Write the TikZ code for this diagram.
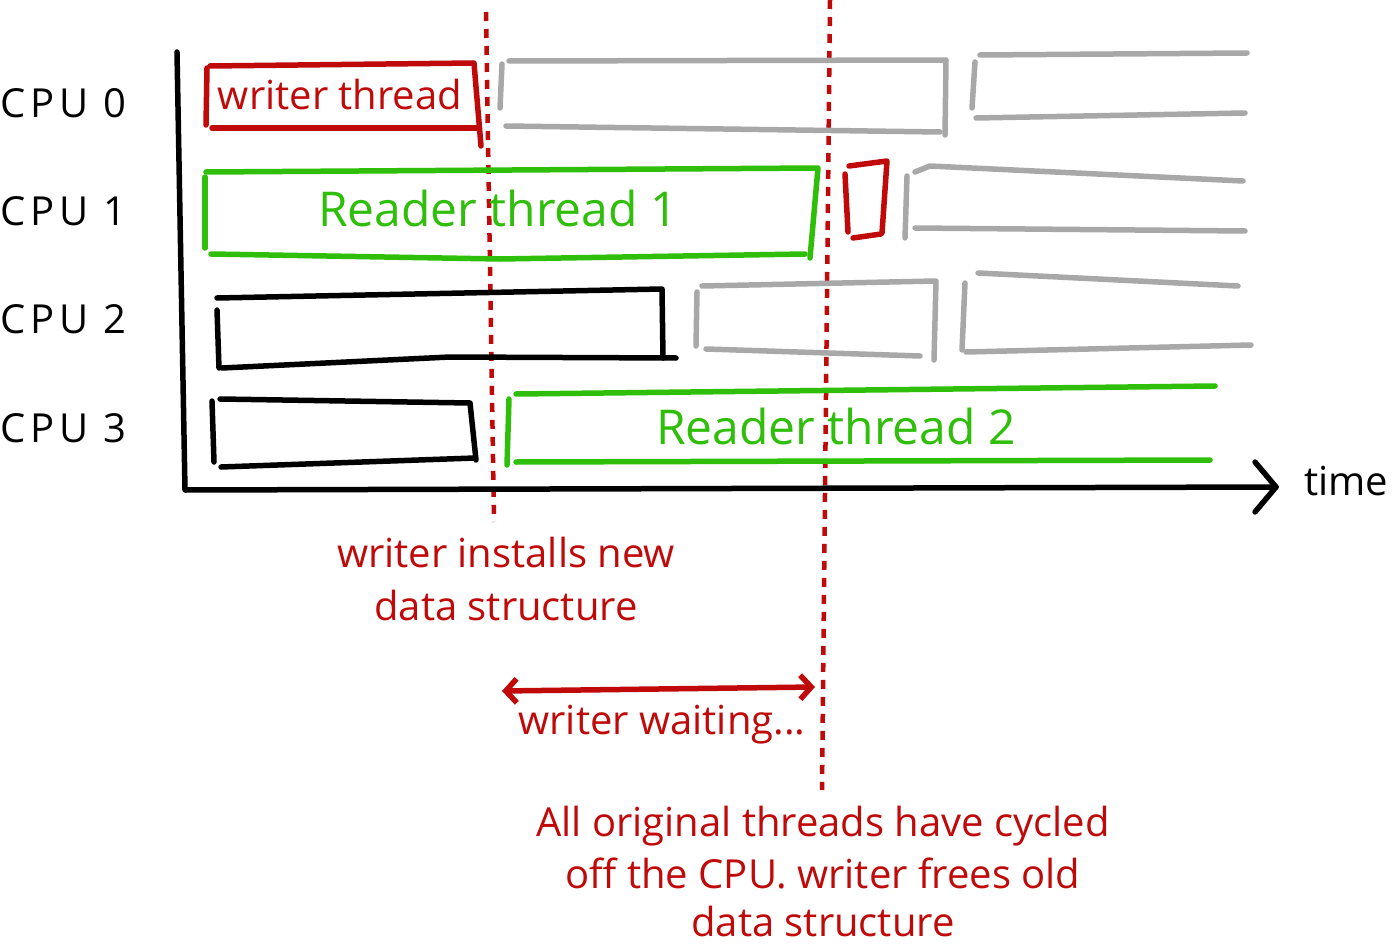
\documentclass[tikz,border=0pt]{standalone}
\usepackage{fontspec}
\setmainfont{Open Sans}
\newfontfamily\cpufont[LetterSpace=12]{Open Sans}
\usetikzlibrary{arrows.meta,calc}
\definecolor{ured}{RGB}{192,10,10}
\definecolor{ugreen}{RGB}{47,190,10}
\definecolor{ugray}{RGB}{168,168,168}
\tikzset{
  stroke/.style={line width=5.5pt,line cap=round,line join=round},
  redline/.style={stroke,draw=ured},
  greenline/.style={stroke,draw=ugreen},
  grayline/.style={stroke,draw=ugray},
  blackline/.style={stroke,draw=black},
  guide/.style={line width=4.5pt,draw=ured,dash pattern=on 9pt off 8pt},
  lbl/.style={font=\fontsize{40}{44}\selectfont,inner sep=0pt,anchor=base},
  biglbl/.style={font=\fontsize{48}{52}\selectfont,inner sep=0pt,anchor=base},
  cpulbl/.style={font=\cpufont\fontsize{40}{44}\selectfont,inner sep=0pt,anchor=base west,text=black},
}
\begin{document}
\begin{tikzpicture}[x=1pt,y=-1pt]
\useasboundingbox[fill=white] (0,0) rectangle (1398,947);

% dashed guide lines
\coordinate (g1t) at (486,12);
\coordinate (g1b) at (494,522);
\coordinate (g2t) at (830,0);
\coordinate (g2b) at (822,790);
\draw[guide] (g1t) -- (g1b);
\draw[guide] (g2t) -- (g2b);

% axes
\coordinate (ytop) at (177,52);
\coordinate (orig) at (185,490);
\coordinate (xend) at (1276,487);
\draw[blackline] (ytop) -- (orig) -- (xend);
\draw[blackline] ($(xend)+(-21,-25)$) -- (xend) -- ($(xend)+(-21,25)$);
\node[lbl,anchor=base west] (time) at (1304,495) {time};

% CPU labels
\node[cpulbl] (cpu0) at (0,118) {CPU 0};
\node[cpulbl] (cpu1) at (0,225) {CPU 1};
\node[cpulbl] (cpu2) at (0,333) {CPU 2};
\node[cpulbl] (cpu3) at (0,442) {CPU 3};

% CPU 0
\draw[redline] (207,68) -- (206,125);
\draw[redline] (210,66) -- (474,63) -- (481,146);
\draw[redline] (212,128) -- (476,128);
\node[lbl,text=ured] (wt) at (340,110) {writer thread};
\draw[grayline] (502,64) -- (500,108);
\draw[grayline] (509,61) -- (946,60) -- (945,135);
\draw[grayline] (506,126) -- (940,132);
\draw[grayline] (975,62) -- (972,108);
\draw[grayline] (980,55) -- (1247,53);
\draw[grayline] (976,118) -- (1245,113);

% CPU 1
\draw[greenline] (205,177) -- (205,248);
\draw[greenline] (206,172) -- (818,168) -- (810,258);
\draw[greenline] (211,254) -- (500,259) -- (805,254);
\node[biglbl,text=ugreen] (rt1) at (498,226) {Reader thread 1};
\draw[redline] (845,174) -- (848,232);
\draw[redline] (849,166) -- (887,161) -- (882,233);
\draw[redline] (853,238) -- (881,234);
\draw[grayline] (907,176) -- (905,238);
\draw[grayline] (915,172) -- (930,166) -- (1243,181);
\draw[grayline] (915,228) -- (1245,231);

% CPU 2
\draw[blackline] (217,310) -- (219,368);
\draw[blackline] (217,298) -- (662,289) -- (663,358);
\draw[blackline] (222,368) -- (450,357) -- (676,358);
\draw[grayline] (697,292) -- (696,346);
\draw[grayline] (702,286) -- (936,281) -- (934,360);
\draw[grayline] (706,349) -- (920,356);
\draw[grayline] (965,283) -- (962,350);
\draw[grayline] (978,273) -- (1238,286);
\draw[grayline] (966,352) -- (1251,345);

% CPU 3
\draw[blackline] (212,401) -- (214,462);
\draw[blackline] (220,399) -- (470,403) -- (476,460);
\draw[blackline] (221,467) -- (475,458);
\draw[greenline] (509,399) -- (507,465);
\draw[greenline] (516,394) -- (1215,386);
\draw[greenline] (516,462) -- (1210,460);
\node[biglbl,text=ugreen] (rt2) at (836,444) {Reader thread 2};

% annotations
\node[lbl,text=ured] (inst1) at (506,567) {writer installs new};
\node[lbl,text=ured] (inst2) at (506,620) {data structure};
\coordinate (wa) at (502,691);
\coordinate (wb) at (815,687);
\draw[stroke,draw=ured,{Straight Barb[length=11pt,width=24pt]}-{Straight Barb[length=11pt,width=24pt]}] (wa) -- (wb);
\node[lbl,text=ured] (wait) at (662,734) {writer waiting...};
\node[lbl,text=ured] (free1) at (823,836) {All original threads have cycled};
\node[lbl,text=ured] (free2) at (823,888) {off the CPU. writer frees old};
\node[lbl,text=ured] (free3) at (823,936) {data structure};
\end{tikzpicture}
\end{document}
